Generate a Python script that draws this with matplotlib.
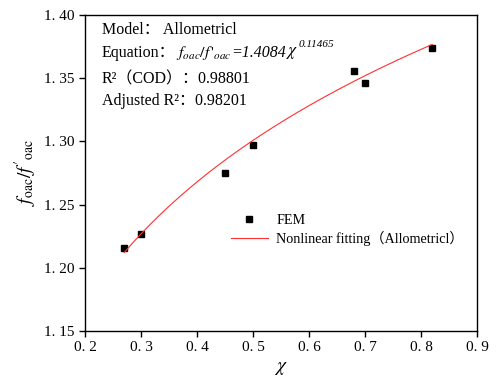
import numpy as np
import matplotlib
matplotlib.use("Agg")
import matplotlib.pyplot as plt

plt.rcParams['font.family'] = ['Liberation Serif', 'Noto Sans CJK SC']
plt.rcParams['mathtext.fontset'] = 'stix'

chi = [0.27, 0.30, 0.45, 0.50, 0.68, 0.70, 0.82]
ratio = [1.216, 1.227, 1.275, 1.297, 1.356, 1.346, 1.374]

# fitted allometric model y = a * x^b
fit_a = 1.4084
fit_b = 0.11465

xticks = [0.2, 0.3, 0.4, 0.5, 0.6, 0.7, 0.8, 0.9]
yticks = [1.15, 1.20, 1.25, 1.30, 1.35, 1.40]

fig = plt.figure(figsize=(4.99, 3.83), dpi=100)
ax = fig.add_axes([85/499, 1 - 331/383, 392/499, 316/383])

xf = np.linspace(min(chi), max(chi), 200)
ax.plot(chi, ratio, 's', color='black', ms=5, label='FEM')
ax.plot(xf, fit_a * xf ** fit_b, color='#ff3030', lw=0.8,
        label='Nonlinear fitting（Allometricl）')

ax.set_xlim(0.2, 0.9)
ax.set_ylim(1.15, 1.40)
ax.set_xticks(xticks)
ax.set_yticks(yticks)
ax.set_xticklabels(['0. %d' % round(v * 10) for v in xticks], fontsize=11)
ax.set_yticklabels(['1. %02d' % round((v - 1) * 100) for v in yticks], fontsize=11)
ax.tick_params(direction='out', length=4, width=1)
for s in ax.spines.values():
    s.set_linewidth(1)

ax.set_xlabel(r'$\chi$', fontsize=14, labelpad=4)
ax.set_ylabel(r"$f_{\rm oac}/f'_{\rm oac}$", fontsize=14, labelpad=4)

fs = 11.5
tx = 102/499
ax.text(tx, 1 - 30/383, 'Model： Allometricl', transform=fig.transFigure,
        fontsize=fs, va='center')
eq = ax.text(tx, 1 - 53/383, 'Equation：', transform=fig.transFigure,
             fontsize=fs, va='center')
p1 = ax.annotate(r"$\mathit{f_{oac}/f\,'_{oac}}$", xy=(1, 0.5), xycoords=eq,
                 va='center', ha='left', fontsize=fs)
p2 = ax.annotate('=%.4f' % fit_a, xy=(1, 0.5), xycoords=p1, va='center',
                 ha='left', fontsize=fs, style='italic')
p3 = ax.annotate(r'$\chi$', xy=(1, 0.5), xycoords=p2, va='center',
                 ha='left', fontsize=fs + 1)
ax.annotate('%.5f' % fit_b, xy=(1, 0.75), xycoords=p3, va='bottom',
            ha='left', fontsize=8, style='italic')
ax.text(tx, 1 - 79/383, 'R²（COD）：0.98801', transform=fig.transFigure,
        fontsize=fs, va='center')
ax.text(tx, 1 - 101/383, 'Adjusted R²：0.98201', transform=fig.transFigure,
        fontsize=fs, va='center')

ax.legend(loc='upper left', bbox_to_anchor=(0.34, 0.41), frameon=False,
          fontsize=10.2, handlelength=2.6, handletextpad=0.6, labelspacing=0.25)

fig.savefig('out.png', dpi=100)
